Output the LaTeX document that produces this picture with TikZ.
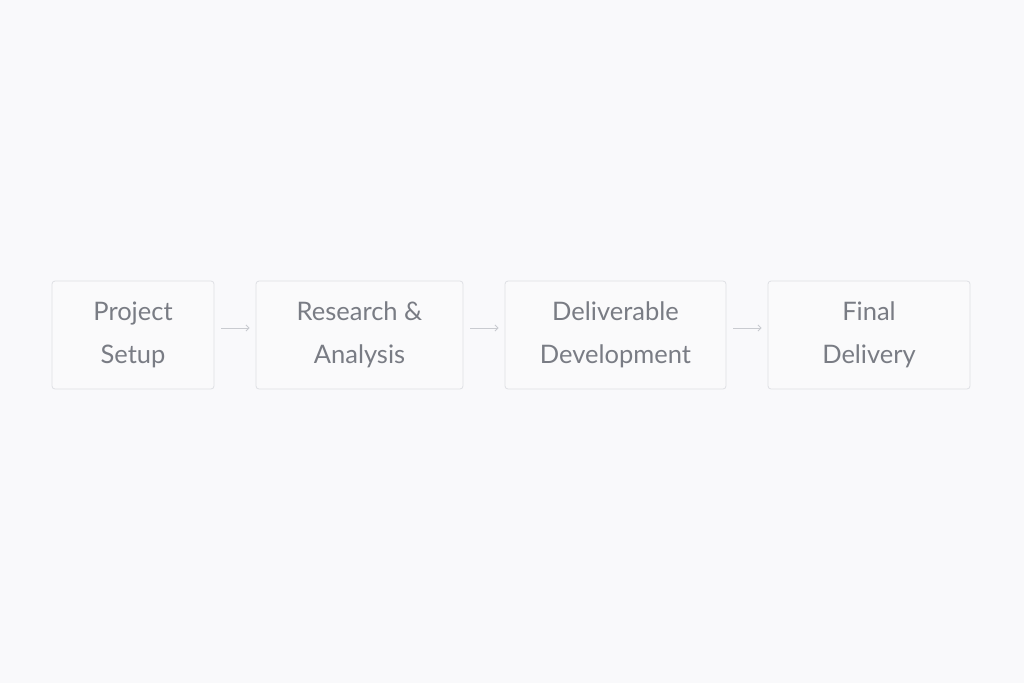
\documentclass[tikz,border=0pt]{standalone}
\usepackage{fontspec}
\setmainfont{Lato}
\usetikzlibrary{arrows.meta}
\definecolor{bg}{HTML}{F9F9FB}
\definecolor{boxline}{HTML}{DFE0E4}
\definecolor{boxfill}{HTML}{FAFAFB}
\definecolor{txt}{HTML}{797C84}
\definecolor{arr}{HTML}{C9CBD0}
\tikzset{
  stepbox/.style={draw=boxline, fill=boxfill, line width=0.8pt, rounded corners=3pt,
    minimum height=108pt, inner sep=0pt, align=center, text=txt,
    font=\fontsize{25.5pt}{43pt}\selectfont},
  flow/.style={draw=arr, line width=0.9pt, -{Straight Barb[length=3pt,width=6pt]}}
}
\begin{document}
\begin{tikzpicture}[x=1pt,y=-1pt]
\fill[bg] (0,0) rectangle (1024,683);
\useasboundingbox (0,0) rectangle (1024,683);
\node[stepbox, minimum width=162pt] (a) at (133,335) {Project\\Setup};
\node[stepbox, minimum width=207pt] (b) at (359.5,335) {Research \&\\Analysis};
\node[stepbox, minimum width=221pt] (c) at (615.5,335) {Deliverable\\Development};
\node[stepbox, minimum width=202pt] (d) at (869,335) {Final\\Delivery};
\draw[flow] ([xshift=7pt,yshift=7pt]a.east) -- ([xshift=-6pt,yshift=7pt]b.west);
\draw[flow] ([xshift=7pt,yshift=7pt]b.east) -- ([xshift=-6pt,yshift=7pt]c.west);
\draw[flow] ([xshift=7pt,yshift=7pt]c.east) -- ([xshift=-6pt,yshift=7pt]d.west);
\end{tikzpicture}
\end{document}
